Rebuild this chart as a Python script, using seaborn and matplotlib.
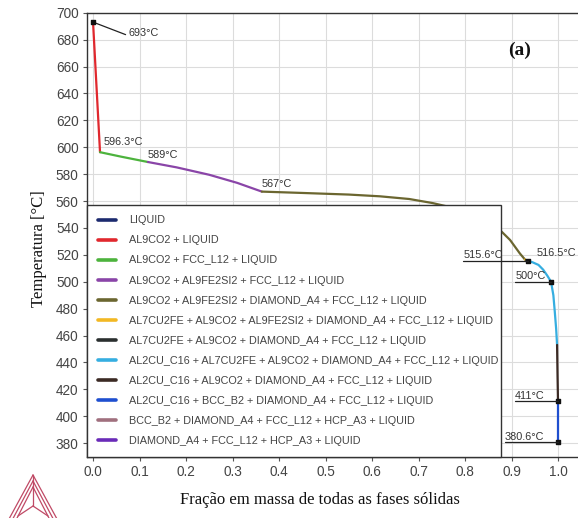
import matplotlib
matplotlib.use("Agg")
import matplotlib.pyplot as plt
from matplotlib.lines import Line2D
import numpy as np
import pandas as pd
import seaborn as sns

# ---- phase regions of the solidification path (mass fraction of solids, temperature in °C) ----
phases = [
    "LIQUID",
    "AL9CO2 + LIQUID",
    "AL9CO2 + FCC_L12 + LIQUID",
    "AL9CO2 + AL9FE2SI2 + FCC_L12 + LIQUID",
    "AL9CO2 + AL9FE2SI2 + DIAMOND_A4 + FCC_L12 + LIQUID",
    "AL7CU2FE + AL9CO2 + AL9FE2SI2 + DIAMOND_A4 + FCC_L12 + LIQUID",
    "AL7CU2FE + AL9CO2 + DIAMOND_A4 + FCC_L12 + LIQUID",
    "AL2CU_C16 + AL7CU2FE + AL9CO2 + DIAMOND_A4 + FCC_L12 + LIQUID",
    "AL2CU_C16 + AL9CO2 + DIAMOND_A4 + FCC_L12 + LIQUID",
    "AL2CU_C16 + BCC_B2 + DIAMOND_A4 + FCC_L12 + LIQUID",
    "BCC_B2 + DIAMOND_A4 + FCC_L12 + HCP_A3 + LIQUID",
    "DIAMOND_A4 + FCC_L12 + HCP_A3 + LIQUID",
]
phase_colors = [
    "#1c2a6e", "#e0282e", "#4db33d", "#8a45a8", "#6b6630", "#f2b824",
    "#2a2f2f", "#36aee0", "#3b2a24", "#1f4fcf", "#a0707e", "#6a2bb8",
]

liquid_frac = [0.0, 0.0]
liquid_temp = [693.0, 693.0]

al9co2_frac = [0.0, 0.015]
al9co2_temp = [693.0, 596.3]

fcc_frac = [0.015, 0.060, 0.118]
fcc_temp = [596.3, 593.0, 589.0]

al9fe2si2_frac = [0.118, 0.180, 0.250, 0.310, 0.363]
al9fe2si2_temp = [589.0, 585.0, 579.5, 573.5, 567.0]

diamond_frac = [0.363, 0.450, 0.550, 0.617, 0.680, 0.730, 0.780, 0.830,
                0.875, 0.897, 0.918, 0.929]
diamond_temp = [567.0, 566.0, 564.8, 563.5, 561.5, 558.5, 554.5, 548.5,
                538.5, 531.0, 521.0, 516.5]

al7cu2fe_frac = [0.929, 0.931]
al7cu2fe_temp = [516.5, 516.2]

al7cu2fe_b_frac = [0.931, 0.935]
al7cu2fe_b_temp = [516.2, 515.6]

al2cu_frac = [0.935, 0.945, 0.958, 0.968, 0.977, 0.985, 0.990, 0.993, 0.996, 0.998]
al2cu_temp = [515.6, 514.5, 512.5, 509.0, 504.5, 500.0, 490.0, 478.0, 465.0, 453.0]

al2cu_b_frac = [0.998, 0.999, 1.000]
al2cu_b_temp = [453.0, 430.0, 411.0]

bcc_frac = [1.000, 1.000]
bcc_temp = [411.0, 380.6]

segments = {
    phases[0]: (liquid_frac, liquid_temp),
    phases[1]: (al9co2_frac, al9co2_temp),
    phases[2]: (fcc_frac, fcc_temp),
    phases[3]: (al9fe2si2_frac, al9fe2si2_temp),
    phases[4]: (diamond_frac, diamond_temp),
    phases[5]: (al7cu2fe_frac, al7cu2fe_temp),
    phases[6]: (al7cu2fe_b_frac, al7cu2fe_b_temp),
    phases[7]: (al2cu_frac, al2cu_temp),
    phases[8]: (al2cu_b_frac, al2cu_b_temp),
    phases[9]: (bcc_frac, bcc_temp),
}

# labelled points: (fraction, temperature, text)
marked_frac = [0.0, 0.015, 0.118, 0.363, 0.935, 0.929, 0.985, 1.000, 1.000]
marked_temp = [693.0, 596.3, 589.0, 567.0, 515.6, 516.5, 500.0, 411.0, 380.6]
marked_text = ["693°C", "596.3°C", "589°C", "567°C", "515.6°C", "516.5°C",
               "500°C", "411°C", "380.6°C"]

rows = []
for name, (fr, tp) in segments.items():
    for f, t in zip(fr, tp):
        rows.append({"frac": f, "temp": t, "phase": name})
df = pd.DataFrame(rows)

sns.set_theme(style="whitegrid")
plt.rcParams["font.family"] = ["Liberation Sans", "DejaVu Sans"]

fig = plt.figure(figsize=(5.78, 5.18), dpi=100)
ax = fig.add_axes([87 / 578, 1 - 457 / 518, (578 - 87) / 578, (457 - 12.7) / 518])

palette = dict(zip(phases, phase_colors))
sns.lineplot(data=df, x="frac", y="temp", hue="phase", hue_order=phases[:10],
             palette=palette, sort=False, estimator=None, units="phase",
             linewidth=1.6, legend=False, ax=ax)

ax.set_xlim(-0.013, 1.043)
ax.set_ylim(369.7, 700)
ax.set_xticks(np.arange(0, 1.01, 0.1))
ax.set_xticklabels([f"{v:.1f}" for v in np.arange(0, 1.01, 0.1)])
ax.set_yticks(np.arange(380, 701, 20))

ax.grid(True, color="#dcdcdc", linewidth=0.8)
ax.set_facecolor("white")
for side in ["top", "left", "bottom"]:
    ax.spines[side].set_color("#333333")
    ax.spines[side].set_linewidth(1.0)
ax.spines["right"].set_visible(False)
ax.tick_params(axis="both", which="major", labelsize=9.8, labelcolor="#444444",
               color="#555555", length=3, width=0.8, direction="out", pad=3)
ax.tick_params(left=True, bottom=True)

ax.set_xlabel("Fração em massa de todas as fases sólidas",
              family=["Liberation Serif", "DejaVu Serif"], fontsize=12, color="#111111")
ax.set_ylabel("Temperatura [°C]",
              family=["Liberation Serif", "DejaVu Serif"], fontsize=12, color="#111111")
ax.xaxis.set_label_coords(0.475, -0.078)
ax.yaxis.set_label_coords(-0.082, 0.47)

# point markers
ax.scatter([marked_frac[i] for i in (0, 4, 6, 7, 8)],
           [marked_temp[i] for i in (0, 4, 6, 7, 8)],
           marker="s", s=9, color="#111111", zorder=5)

ann = dict(fontsize=7.8, color="#333333")
# 693 °C with a slanted leader
ax.annotate(marked_text[0], xy=(marked_frac[0], marked_temp[0]), xytext=(0.077, 685),
            va="center", ha="left",
            arrowprops=dict(arrowstyle="-", color="#222222", lw=0.9,
                            shrinkA=0, shrinkB=0, relpos=(0, 0.2)), **ann)
ax.text(0.022, 604, marked_text[1], ha="left", va="center", **ann)
ax.text(0.118, 594, marked_text[2], ha="left", va="center", **ann)
ax.text(0.363, 573, marked_text[3], ha="left", va="center", **ann)
ax.text(0.953, 521, marked_text[5], ha="left", va="center", **ann)

# underlined labels whose leader runs to the point
for idx, x0 in ((4, 0.796), (6, 0.908), (7, 0.908), (8, 0.886)):
    xf, t = marked_frac[idx], marked_temp[idx]
    ax.text(x0, t + 4.0, marked_text[idx], ha="left", va="center", zorder=6, **ann)
    ax.plot([x0, xf], [t, t], color="#222222", lw=0.9, zorder=6)

ax.text(0.918, 672, "(a)", family=["Liberation Serif", "DejaVu Serif"],
        fontsize=14, fontweight="bold", ha="center", va="center", color="#111111")

handles = [Line2D([0], [0], color=c, lw=2.6) for c in phase_colors]
leg = ax.legend(handles, phases, loc="lower left", bbox_to_anchor=(0, 0, 0.843, 0.5),
                mode="expand", borderaxespad=0, fontsize=7.8, frameon=True,
                fancybox=False, framealpha=1, edgecolor="#333333",
                handlelength=1.65, handletextpad=1.2, labelspacing=0.93,
                borderpad=1.0)
leg.get_frame().set_linewidth(1.0)
for txt in leg.get_texts():
    txt.set_color("#444444")
leg.set_zorder(4)

# Thermo-Calc style triangle logo in the lower-left corner
logo = fig.add_axes([0, 0, 70 / 578, 48 / 518])
logo.set_xlim(0, 70)
logo.set_ylim(48, 0)
logo.axis("off")
lc = "#c04a66"
for ax_, ay, bx, cx, by in [(33, 5, 3, 63, 60), (33, 11, 9, 57, 56), (33, 17, 15, 51, 52)]:
    logo.plot([ax_, bx, cx, ax_], [ay, by, by, ay], color=lc, lw=0.9)
logo.plot([33, 33], [5, 36], color=lc, lw=0.9)
logo.plot([33, 18], [36, 46], color=lc, lw=0.9)
logo.plot([33, 48], [36, 46], color=lc, lw=0.9)

fig.savefig("out.png", dpi=100)
